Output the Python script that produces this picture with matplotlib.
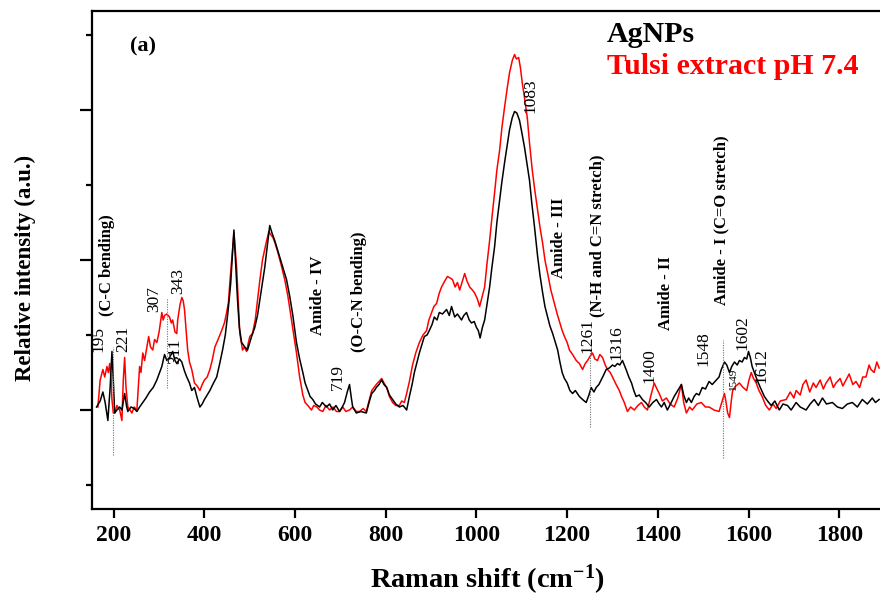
"""
拉曼光谱对比图

AgNPs 与 Tulsi extract pH 7.4 两条曲线 + 峰位标注
"""
import matplotlib
matplotlib.use("Agg")
import matplotlib.pyplot as plt
from matplotlib.ticker import FixedLocator

plt.rcParams.update({
    "font.family": ["Liberation Serif", "DejaVu Serif"],
    "mathtext.default": "regular",
})

# ---- 数据 (从图上读取, 基线 = 0) ----
agnps_shift = [
    162, 170, 176, 181, 187, 192, 196, 199, 202, 207, 213, 218, 224, 228, 231, 238, 245, 251, 257, 264,
    271, 279, 287, 295, 300, 306, 312, 317, 323, 330, 335, 339, 345, 350, 356, 361, 367, 372, 378, 384,
    390, 395, 400, 406, 412, 420, 427, 433, 440, 446, 451, 455, 458, 462, 465, 468, 473, 477, 482, 489,
    495, 500, 504, 511, 517, 522, 528, 533, 539, 544, 549, 555, 560, 566, 573, 581, 588, 595, 603, 610,
    617, 622, 628, 633, 639, 645, 654, 660, 669, 676, 683, 690, 698, 704, 709, 715, 720, 724, 727, 735,
    745, 757, 763, 769, 775, 779, 785, 791, 796, 802, 808, 815, 822, 830, 838, 846, 852, 858, 863, 869,
    874, 880, 885, 891, 896, 902, 907, 913, 918, 925, 934, 940, 945, 952, 958, 967, 972, 978, 984, 989,
    995, 1000, 1004, 1008, 1013, 1018, 1023, 1029, 1034, 1040, 1045, 1051, 1056, 1062, 1068, 1073, 1079,
    1084, 1089, 1095, 1100, 1106, 1111, 1117, 1122, 1128, 1135, 1140, 1146, 1151, 1157, 1162, 1168, 1173,
    1179, 1184, 1189, 1194, 1200, 1206, 1212, 1218, 1227, 1234, 1242, 1248, 1253, 1259, 1264, 1270, 1275,
    1280, 1286, 1293, 1300, 1305, 1311, 1316, 1322, 1326, 1330, 1336, 1342, 1347, 1352, 1359, 1366, 1373,
    1381, 1389, 1397, 1403, 1408, 1414, 1421, 1428, 1436, 1444, 1452, 1457, 1463, 1468, 1474, 1480, 1485,
    1491, 1498, 1505, 1513, 1520, 1529, 1535, 1540, 1547, 1552, 1558, 1563, 1569, 1575, 1580, 1586, 1591,
    1596, 1600, 1604, 1608, 1613, 1619, 1626, 1635, 1642, 1650, 1658, 1668, 1676, 1686, 1694, 1705, 1714,
    1727, 1736, 1745, 1754, 1763, 1772, 1785, 1796, 1807, 1818, 1829, 1840, 1851, 1862, 1873, 1880, 1888,
]
agnps_int = [
    0.02, 0.06, 0.12, 0.05, -0.07, 0.15, 0.39, 0.20, -0.02, 0.00, 0.02, 0.00, 0.11, 0.03, -0.01, 0.02, 0.01, -0.01, 0.02, 0.05,
    0.08, 0.12, 0.15, 0.20, 0.24, 0.29, 0.37, 0.33, 0.35, 0.39, 0.33, 0.31, 0.34, 0.32, 0.26, 0.22, 0.18, 0.13, 0.15, 0.08,
    0.02, 0.04, 0.07, 0.10, 0.13, 0.18, 0.22, 0.30, 0.40, 0.50, 0.63, 0.75, 0.85, 1.05, 1.20, 1.02, 0.73, 0.55, 0.45, 0.42,
    0.40, 0.45, 0.49, 0.55, 0.63, 0.73, 0.85, 0.95, 1.10, 1.23, 1.18, 1.13, 1.08, 1.02, 0.95, 0.87, 0.76, 0.63, 0.45, 0.34,
    0.25, 0.18, 0.13, 0.09, 0.07, 0.04, 0.02, 0.05, 0.02, 0.04, 0.00, 0.03, -0.01, 0.02, 0.05, 0.12, 0.17, 0.08, 0.02, -0.02,
    -0.01, -0.02, 0.05, 0.11, 0.13, 0.15, 0.17, 0.20, 0.17, 0.15, 0.10, 0.07, 0.04, 0.02, 0.03, 0.00, 0.09, 0.17, 0.25, 0.32,
    0.38, 0.44, 0.49, 0.50, 0.53, 0.57, 0.62, 0.60, 0.65, 0.64, 0.67, 0.63, 0.69, 0.62, 0.64, 0.60, 0.63, 0.65, 0.60, 0.58,
    0.59, 0.55, 0.53, 0.48, 0.55, 0.60, 0.70, 0.82, 0.95, 1.09, 1.25, 1.40, 1.52, 1.65, 1.77, 1.87, 1.95,
    1.99, 1.98, 1.93, 1.85, 1.75, 1.65, 1.53, 1.38, 1.22, 1.02, 0.90, 0.78, 0.69, 0.62, 0.56, 0.51, 0.46,
    0.40, 0.32, 0.25, 0.21, 0.18, 0.13, 0.11, 0.13, 0.09, 0.07, 0.05, 0.10, 0.15, 0.12, 0.15, 0.17, 0.20,
    0.23, 0.27, 0.28, 0.30, 0.29, 0.31, 0.30, 0.33, 0.30, 0.27, 0.22, 0.18, 0.13, 0.09, 0.10, 0.07, 0.05,
    0.02, 0.05, 0.07, 0.04, 0.02, 0.05, 0.00, 0.04, 0.09, 0.13, 0.17, 0.10, 0.05, 0.08, 0.05, 0.09, 0.11,
    0.10, 0.15, 0.14, 0.19, 0.17, 0.20, 0.22, 0.27, 0.32, 0.30, 0.25, 0.29, 0.32, 0.30, 0.33, 0.32, 0.35,
    0.34, 0.39, 0.35, 0.29, 0.25, 0.20, 0.15, 0.09, 0.06, 0.03, 0.06, 0.00, 0.04, 0.03, 0.00, 0.05, 0.02,
    0.00, 0.04, 0.07, 0.03, 0.08, 0.04, 0.05, 0.02, 0.01, 0.04, 0.05, 0.02, 0.07, 0.04, 0.08, 0.05, 0.07,
]

tulsi_shift = [
    165, 170, 176, 180, 185, 188, 191, 194, 196, 199, 202, 207, 213, 218, 221, 224, 227, 231, 236, 240,
    245, 251, 254, 257, 260, 264, 268, 272, 277, 281, 286, 290, 295, 300, 306, 309, 312, 317, 323, 327,
    330, 335, 339, 341, 346, 350, 353, 356, 360, 363, 367, 372, 378, 384, 390, 395, 400, 406, 412, 417,
    423, 430, 438, 444, 449, 453, 456, 460, 465, 468, 471, 475, 478, 484, 488, 493, 497, 500, 506, 512,
    517, 522, 528, 535, 542, 546, 551, 556, 562, 569, 577, 584, 592, 598, 603, 610, 617, 622, 628, 636,
    641, 648, 654, 661, 668, 676, 684, 691, 698, 705, 712, 720, 727, 735, 742, 750, 757, 763, 769, 774,
    779, 785, 791, 796, 802, 808, 815, 822, 830, 835, 841, 846, 852, 859, 866, 874, 882, 890, 895, 901,
    906, 912, 918, 923, 930, 936, 942, 947, 953, 958, 963, 969, 974, 979, 985, 991, 996, 1002, 1007, 1012,
    1018, 1023, 1029, 1034, 1040, 1045, 1051, 1056, 1062, 1068, 1073, 1079, 1084, 1088, 1093, 1097, 1101,
    1106, 1112, 1117, 1123, 1128, 1134, 1140, 1146, 1151, 1157, 1164, 1172, 1178, 1183, 1189, 1194, 1200,
    1205, 1212, 1220, 1227, 1234, 1240, 1245, 1251, 1256, 1261, 1267, 1272, 1278, 1284, 1289, 1295, 1300,
    1308, 1315, 1320, 1326, 1333, 1340, 1348, 1356, 1364, 1370, 1377, 1385, 1392, 1398, 1403, 1410, 1419,
    1427, 1436, 1444, 1452, 1457, 1463, 1470, 1476, 1486, 1496, 1505, 1513, 1524, 1535, 1541, 1547, 1550,
    1554, 1558, 1562, 1565, 1572, 1580, 1588, 1596, 1601, 1606, 1611, 1617, 1623, 1630, 1638, 1646, 1654,
    1661, 1670, 1683, 1692, 1700, 1705, 1714, 1720, 1727, 1735, 1743, 1749, 1758, 1765, 1771, 1780, 1787,
    1793, 1802, 1808, 1815, 1822, 1830, 1837, 1845, 1852, 1859, 1866, 1870, 1877, 1883, 1888,
]
tulsi_int = [
    0.02, 0.20, 0.27, 0.22, 0.29, 0.25, 0.31, 0.20, 0.07, -0.02, -0.02, 0.03, 0.00, -0.07, 0.20, 0.35, 0.15, 0.02, 0.00, -0.02,
    0.02, 0.00, 0.15, 0.29, 0.25, 0.38, 0.33, 0.40, 0.49, 0.42, 0.40, 0.47, 0.45, 0.52, 0.65, 0.60, 0.63, 0.64, 0.62, 0.58,
    0.60, 0.52, 0.51, 0.60, 0.70, 0.75, 0.73, 0.67, 0.52, 0.40, 0.32, 0.27, 0.18, 0.16, 0.13, 0.17, 0.20, 0.22, 0.27, 0.33,
    0.42, 0.47, 0.53, 0.58, 0.65, 0.72, 0.85, 1.00, 1.18, 1.07, 0.95, 0.70, 0.51, 0.40, 0.42, 0.39, 0.45, 0.49, 0.51, 0.60,
    0.73, 0.86, 1.00, 1.10, 1.19, 1.17, 1.15, 1.11, 1.05, 0.97, 0.87, 0.76, 0.60, 0.48, 0.38, 0.22, 0.10, 0.05, 0.03, 0.00,
    0.03, 0.02, 0.00, -0.01, 0.03, 0.00, 0.02, -0.01, -0.01, 0.02, -0.01, 0.00, 0.02, -0.01, -0.01, 0.01, -0.01, 0.06, 0.13, 0.15,
    0.17, 0.19, 0.21, 0.18, 0.15, 0.09, 0.05, 0.03, 0.03, 0.06, 0.05, 0.11, 0.19, 0.30, 0.38, 0.45, 0.50, 0.53, 0.60, 0.65,
    0.69, 0.71, 0.78, 0.82, 0.86, 0.89, 0.88, 0.87, 0.82, 0.85, 0.80, 0.86, 0.91, 0.86, 0.82, 0.80, 0.78, 0.74, 0.69, 0.75,
    0.82, 0.97, 1.13, 1.28, 1.45, 1.60, 1.73, 1.88, 2.02, 2.15, 2.25, 2.33, 2.37, 2.34, 2.35, 2.28, 2.18,
    2.08, 1.95, 1.78, 1.60, 1.48, 1.35, 1.22, 1.11, 1.00, 0.91, 0.80, 0.71, 0.64, 0.59, 0.53, 0.49, 0.45,
    0.40, 0.37, 0.33, 0.31, 0.27, 0.31, 0.33, 0.36, 0.38, 0.34, 0.33, 0.37, 0.35, 0.30, 0.27, 0.25, 0.22,
    0.17, 0.13, 0.09, 0.05, -0.01, 0.02, 0.00, 0.03, 0.05, 0.02, 0.00, 0.10, 0.18, 0.14, 0.11, 0.06, 0.08,
    0.04, 0.02, 0.08, 0.17, 0.05, -0.02, 0.02, 0.00, 0.04, 0.05, 0.02, 0.02, 0.00, -0.01, 0.05, 0.11, 0.06,
    -0.02, -0.05, 0.06, 0.13, 0.16, 0.18, 0.15, 0.13, 0.20, 0.25, 0.21, 0.18, 0.13, 0.09, 0.03, 0.00, 0.04,
    0.01, 0.06, 0.07, 0.12, 0.08, 0.13, 0.10, 0.17, 0.20, 0.12, 0.18, 0.15, 0.20, 0.14, 0.18, 0.22, 0.15,
    0.18, 0.21, 0.16, 0.20, 0.24, 0.17, 0.19, 0.15, 0.22, 0.22, 0.30, 0.27, 0.25, 0.32, 0.28,
]

# 峰位数字 (常规字体): 文本, x, 底部 y
peak_labels = ["195", "221", "307", "311", "343", "719", "1083", "1261", "1316", "1400", "1548", "1602", "1612"]
peak_x = [166, 222, 290, 335, 341, 694, 1119, 1245, 1309, 1381, 1500, 1586, 1628]
peak_y = [0.39, 0.39, 0.65, 0.31, 0.77, 0.13, 1.98, 0.38, 0.33, 0.18, 0.29, 0.40, 0.18]

# 振动模式说明 (粗体)
mode_labels = ["(C-C bending)", "Amide - IV", "(O-C-N bending)", "Amide - III",
               "(N-H and C=N stretch)", "Amide - II", "Amide - I (C=O stretch)"]
mode_x = [185, 650, 740, 1181, 1267, 1419, 1540]
mode_y = [0.63, 0.50, 0.39, 0.88, 0.62, 0.53, 0.70]

# 虚线标记: x, y 起止
mark_x = [198, 317, 1251, 1544]
mark_y0 = [-0.30, 0.15, -0.11, -0.32]
mark_y1 = [0.42, 0.75, 0.40, 0.47]

W, H = 880, 598
fig = plt.figure(figsize=(W / 100, H / 100), dpi=100)
ax = fig.add_axes([92 / W, 1 - 509 / H, 788 / W, 498 / H])

ax.plot(tulsi_shift, tulsi_int, color="red", lw=1.1)
ax.plot(agnps_shift, agnps_int, color="black", lw=1.1)

for x, y0, y1 in zip(mark_x, mark_y0, mark_y1):
    ax.plot([x, x], [y0, y1], color="0.45", lw=0.8, ls=(0, (1, 1.2)))

for s, x, y in zip(peak_labels, peak_x, peak_y):
    ax.text(x, y, s, rotation=90, ha="center", va="bottom", fontsize=12.5)
ax.text(1566, 0.13, "1549", rotation=90, ha="center", va="bottom", fontsize=8)

for s, x, y in zip(mode_labels, mode_x, mode_y):
    ax.text(x, y, s, rotation=90, ha="center", va="bottom", fontsize=12, fontweight="bold")

ax.set_xlim(152, 1890)
ax.set_ylim(-0.66, 2.66)

# 坐标轴样式
for side in ("left", "top", "bottom"):
    ax.spines[side].set_linewidth(1.6)
ax.spines["right"].set_visible(False)

ax.xaxis.set_major_locator(FixedLocator([200, 400, 600, 800, 1000, 1200, 1400, 1600, 1800]))
ax.yaxis.set_major_locator(FixedLocator([0, 1, 2]))
ax.yaxis.set_minor_locator(FixedLocator([-0.5, 0.5, 1.5, 2.5]))
ax.tick_params(axis="x", direction="out", length=6.5, width=1.6, pad=5, labelsize=17, top=False)
ax.tick_params(axis="y", which="major", direction="out", length=8.5, width=1.6, labelleft=False, right=False)
ax.tick_params(axis="y", which="minor", direction="out", length=4.5, width=1.6, right=False)
for lab in ax.get_xticklabels():
    lab.set_fontweight("bold")

fig.text(487 / W, 1 - 580 / H, "Raman shift (cm$^{-1}$)", ha="center", va="center",
         fontsize=20.5, fontweight="bold")
fig.text(25 / W, 1 - 268 / H, "Relative intensity (a.u.)", rotation=90, ha="center", va="center",
         fontsize=16.5, fontweight="bold")

fig.text(130 / W, 1 - 46 / H, "(a)", ha="left", va="center", fontsize=16, fontweight="bold")
fig.text(607 / W, 1 - 35 / H, "AgNPs", ha="left", va="center", fontsize=21.5, fontweight="bold", color="black")
fig.text(607 / W, 1 - 66 / H, "Tulsi extract pH 7.4", ha="left", va="center", fontsize=21.5,
         fontweight="bold", color="red")

fig.savefig("out.png", dpi=100)
